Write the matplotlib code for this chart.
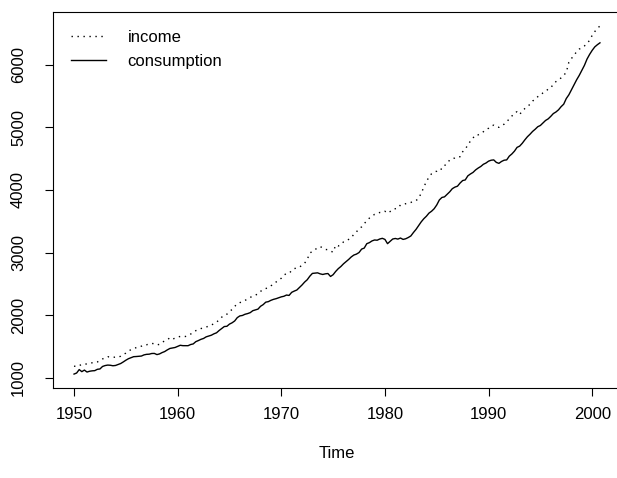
import matplotlib
matplotlib.use("Agg")
import matplotlib.pyplot as plt
import numpy as np

# quarterly series, 1950 Q1 .. 2000 Q4
START_YEAR = 1950

consumption = [
  1058.9, 1075.9, 1131.0, 1097.6,  # 1950
  1122.8, 1091.4, 1103.9, 1110.5,
  1113.6, 1135.1, 1140.4, 1180.5,
  1194.9, 1202.5, 1199.8, 1191.8,
  1196.2, 1211.3, 1227.3, 1252.6,
  1280.1, 1304.3, 1320.3, 1336.7,  # 1955
  1339.2, 1343.7, 1346.8, 1365.3,
  1374.2, 1376.5, 1387.7, 1388.8,
  1370.1, 1380.9, 1402.3, 1418.8,
  1445.2, 1468.0, 1476.5, 1483.6,
  1502.1, 1518.9, 1512.8, 1513.1,  # 1960
  1512.1, 1530.8, 1540.5, 1576.6,
  1594.2, 1614.3, 1628.0, 1653.5,
  1666.7, 1679.8, 1701.9, 1718.2,
  1754.8, 1786.6, 1818.2, 1822.1,
  1857.3, 1877.9, 1907.0, 1960.1,  # 1965
  1988.0, 1995.2, 2014.4, 2025.1,
  2040.1, 2071.3, 2083.0, 2096.5,
  2142.1, 2168.2, 2207.5, 2215.9,
  2237.1, 2252.5, 2263.3, 2277.7,
  2292.4, 2301.6, 2321.3, 2315.2,  # 1970
  2364.3, 2384.5, 2401.7, 2441.3,
  2482.1, 2528.4, 2565.2, 2622.0,
  2666.9, 2672.0, 2676.0, 2660.0,
  2650.0, 2660.0, 2665.0, 2618.0,
  2646.3, 2698.8, 2743.0, 2777.4,  # 1975
  2820.0, 2855.0, 2890.0, 2930.0,
  2960.0, 2975.0, 3000.0, 3055.0,
  3071.2, 3141.6, 3158.5, 3185.5,
  3200.8, 3197.1, 3216.4, 3227.2,
  3210.0, 3142.0, 3180.0, 3216.0,  # 1980
  3225.0, 3215.0, 3232.0, 3210.0,
  3220.0, 3240.0, 3265.0, 3320.0,
  3370.0, 3430.0, 3490.0, 3540.0,
  3580.0, 3630.0, 3660.0, 3700.0,
  3760.0, 3840.0, 3880.0, 3890.0,  # 1985
  3930.0, 3970.0, 4020.0, 4045.0,
  4060.0, 4110.0, 4150.0, 4160.0,
  4225.0, 4255.0, 4280.0, 4320.0,
  4350.0, 4375.0, 4410.0, 4430.0,
  4460.0, 4475.0, 4480.0, 4440.0,  # 1990
  4425.0, 4455.0, 4475.0, 4480.0,
  4540.0, 4575.0, 4620.0, 4680.0,
  4700.0, 4745.0, 4800.0, 4850.0,
  4890.0, 4935.0, 4970.0, 5010.0,
  5030.0, 5070.0, 5110.0, 5135.0,  # 1995
  5175.0, 5220.0, 5245.0, 5280.0,
  5330.0, 5370.0, 5460.0, 5520.0,
  5600.0, 5680.0, 5760.0, 5830.0,
  5910.0, 5990.0, 6090.0, 6165.0,
  6230.0, 6285.0, 6320.0, 6350.0,  # 2000
]

income = [
  1186.1, 1178.1, 1196.5, 1210.0,  # 1950
  1207.9, 1225.8, 1235.8, 1238.5,
  1238.5, 1252.0, 1276.1, 1300.5,
  1317.5, 1336.3, 1330.2, 1325.9,
  1330.3, 1327.9, 1344.2, 1373.6,
  1392.7, 1423.3, 1451.1, 1468.1,  # 1955
  1480.9, 1497.8, 1504.1, 1526.5,
  1527.5, 1538.6, 1548.7, 1543.1,
  1524.7, 1534.1, 1568.1, 1588.0,
  1606.3, 1639.1, 1616.2, 1632.6,
  1649.9, 1660.4, 1661.6, 1659.1,  # 1960
  1674.1, 1697.0, 1721.3, 1752.4,
  1770.2, 1786.0, 1797.9, 1808.9,
  1827.1, 1842.2, 1863.8, 1888.3,
  1923.6, 1968.0, 1997.9, 2015.1,
  2060.0, 2090.0, 2140.0, 2180.0,  # 1965
  2200.0, 2215.0, 2235.0, 2260.0,
  2285.0, 2300.0, 2320.0, 2340.0,
  2380.0, 2410.0, 2425.0, 2440.0,
  2470.0, 2490.0, 2530.0, 2560.0,
  2590.0, 2640.0, 2665.0, 2670.0,  # 1970
  2710.0, 2745.0, 2750.0, 2765.0,
  2800.0, 2830.0, 2890.0, 2990.0,
  3020.0, 3050.0, 3070.0, 3095.0,
  3075.0, 3050.0, 3045.0, 3025.0,
  3005.0, 3120.0, 3105.0, 3125.0,  # 1975
  3170.0, 3190.0, 3210.0, 3240.0,
  3290.0, 3330.0, 3380.0, 3410.0,
  3460.0, 3510.0, 3550.0, 3580.0,
  3610.0, 3620.0, 3640.0, 3640.0,
  3660.0, 3630.0, 3655.0, 3690.0,  # 1980
  3700.0, 3710.0, 3760.0, 3770.0,
  3780.0, 3790.0, 3800.0, 3820.0,
  3830.0, 3865.0, 3950.0, 4040.0,
  4140.0, 4200.0, 4260.0, 4285.0,
  4300.0, 4340.0, 4330.0, 4390.0,  # 1985
  4420.0, 4480.0, 4500.0, 4510.0,
  4530.0, 4530.0, 4610.0, 4650.0,
  4720.0, 4780.0, 4830.0, 4880.0,
  4880.0, 4905.0, 4930.0, 4965.0,
  4985.0, 5020.0, 5035.0, 5010.0,  # 1990
  5000.0, 5030.0, 5050.0, 5090.0,
  5135.0, 5180.0, 5230.0, 5250.0,
  5205.0, 5260.0, 5300.0, 5330.0,
  5370.0, 5420.0, 5450.0, 5490.0,
  5515.0, 5550.0, 5575.0, 5610.0,  # 1995
  5630.0, 5690.0, 5730.0, 5760.0,
  5790.0, 5830.0, 5880.0, 6040.0,
  6100.0, 6150.0, 6210.0, 6250.0,
  6270.0, 6300.0, 6340.0, 6390.0,
  6470.0, 6530.0, 6580.0, 6620.0,  # 2000
]

x_ticks = [1950, 1960, 1970, 1980, 1990, 2000]
y_ticks = [1000, 2000, 3000, 4000, 5000, 6000]

plt.rcParams["font.family"] = ["Liberation Sans", "DejaVu Sans"]

t = START_YEAR + np.arange(len(consumption)) / 4.0


def r_range(lo, hi):
  # R's default 4% axis extension
  d = (hi - lo) * 0.04
  return lo - d, hi + d


fig = plt.figure(figsize=(6.17, 4.78), dpi=100)
W, H = 617, 478
# plot box runs past the right edge of the (cropped) image
ax = fig.add_axes([53 / W, (H - 388) / H, (621 - 53) / W, (388 - 12) / H])

ax.plot(t, income, color="black", lw=1.0, ls=(0, (1.0, 3.3)), label="income")
ax.plot(t, consumption, color="black", lw=1.0, label="consumption")

ax.set_xlim(*r_range(t.min(), t.max()))
ax.set_ylim(*r_range(min(min(income), min(consumption)), max(max(income), max(consumption))))

ax.set_xticks(x_ticks)
ax.set_yticks(y_ticks)
ax.set_xticklabels([str(v) for v in x_ticks], fontsize=12)
ax.set_yticklabels([str(v) for v in y_ticks], fontsize=12, rotation=90, va="center")
ax.tick_params(axis="both", direction="out", length=5.5, width=0.8, color="black")
ax.tick_params(axis="x", pad=8)
ax.tick_params(axis="y", pad=14)
for s in ax.spines.values():
  s.set_linewidth(0.8)

ax.set_xlabel("Time", fontsize=12)
ax.xaxis.set_label_coords(0.5, -(446 - 388) / (388 - 12))

ax.legend(loc="upper left", frameon=False, fontsize=12, handlelength=2.1,
          handletextpad=1.3, labelspacing=0.55, borderaxespad=0.68)

fig.savefig("out.png", dpi=100)
